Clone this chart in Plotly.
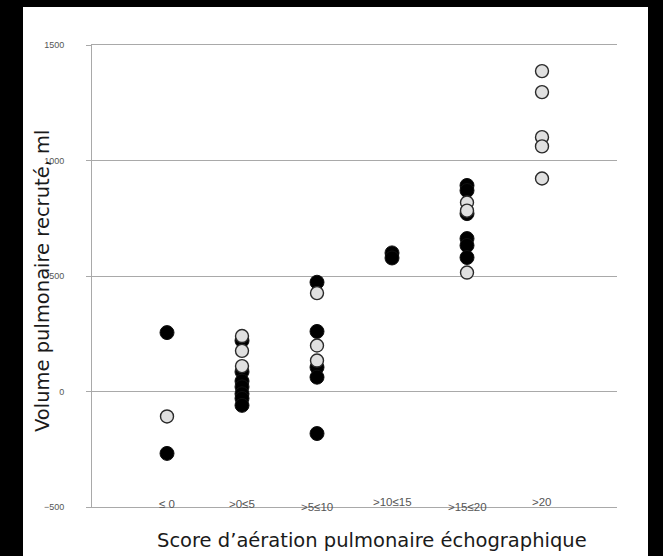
import plotly.graph_objects as go

categories = ["≤ 0", ">0≤5", ">5≤10", ">10≤15", ">15≤20", ">20"]
label_shift = [3, 3, 0, 5, 0, 5]

# black (filled) points: category index (1-based) and value
black_cat = [1, 1,
             2, 2, 2, 2, 2, 2, 2,
             3, 3, 3, 3, 3,
             4, 4,
             5, 5, 5, 5, 5, 5]
black_val = [255, -268,
             220, 85, 45, 20, -10, -30, -60,
             473, 260, 105, 62, -182,
             600, 578,
             892, 870, 770, 662, 632, 580]

# grey (open) points
grey_cat = [1,
            2, 2, 2,
            3, 3, 3,
            5, 5, 5,
            6, 6, 6, 6, 6]
grey_val = [-108,
            240, 176, 110,
            426, 199, 134,
            818, 783, 515,
            1387, 1296, 1101, 1061, 922]

y_ticks = [-500, 0, 500, 1000, 1500]

fig = go.Figure()
fig.add_trace(go.Scatter(
    x=black_cat, y=black_val, mode="markers",
    marker=dict(size=14, color="#000000", line=dict(color="#111111", width=1)),
    showlegend=False, cliponaxis=False))
fig.add_trace(go.Scatter(
    x=grey_cat, y=grey_val, mode="markers",
    marker=dict(size=13, color="#e0e0e0", line=dict(color="#2a2a2a", width=1.4)),
    showlegend=False, cliponaxis=False))

for i, (lab, sh) in enumerate(zip(categories, label_shift)):
    fig.add_annotation(x=i + 1, y=-500, xref="x", yref="y", text=lab,
                       showarrow=False, yshift=sh, xanchor="center", yanchor="middle",
                       font=dict(family="Liberation Sans, Arial", size=11.5, color="#555555"))

fig.add_annotation(x=(372 - 92) / 525, y=(507 - 540) / 462, xref="paper", yref="paper",
                   text="Score d’aération pulmonaire échographique", showarrow=False,
                   xanchor="center", yanchor="middle",
                   font=dict(family="DejaVu Sans", size=19.5, color="#1a1a1a"))
fig.add_annotation(x=(42 - 92) / 525, y=(507 - 281) / 462, xref="paper", yref="paper",
                   text="Volume pulmonaire recruté, ml", showarrow=False, textangle=-90,
                   xanchor="center", yanchor="middle",
                   font=dict(family="DejaVu Sans", size=19.5, color="#1a1a1a"))

fig.add_shape(type="rect", xref="paper", yref="paper",
              x0=(23 - 92) / 525, x1=(648 - 92) / 525,
              y0=(507 - 570) / 462, y1=(507 - 7) / 462,
              fillcolor="white", line=dict(width=0), layer="below")

fig.update_xaxes(range=[0, 7], showgrid=False, zeroline=False, showticklabels=False,
                 showline=True, mirror=True, linecolor="#a9a9a9", linewidth=1, ticks="")
fig.update_yaxes(range=[-500, 1500], tickvals=y_ticks, showgrid=True, gridcolor="#a9a9a9",
                 gridwidth=1, zeroline=False, showline=True, linecolor="#a9a9a9", linewidth=1,
                 ticks="outside", ticklen=5, tickcolor="#a9a9a9", ticklabelstandoff=20,
                 tickfont=dict(family="Liberation Sans, Arial", size=9, color="#555555"))

fig.update_layout(width=663, height=556, margin=dict(l=92, r=46, t=45, b=49),
                  paper_bgcolor="#000000", plot_bgcolor="white", showlegend=False)

fig.write_html("out.html")
